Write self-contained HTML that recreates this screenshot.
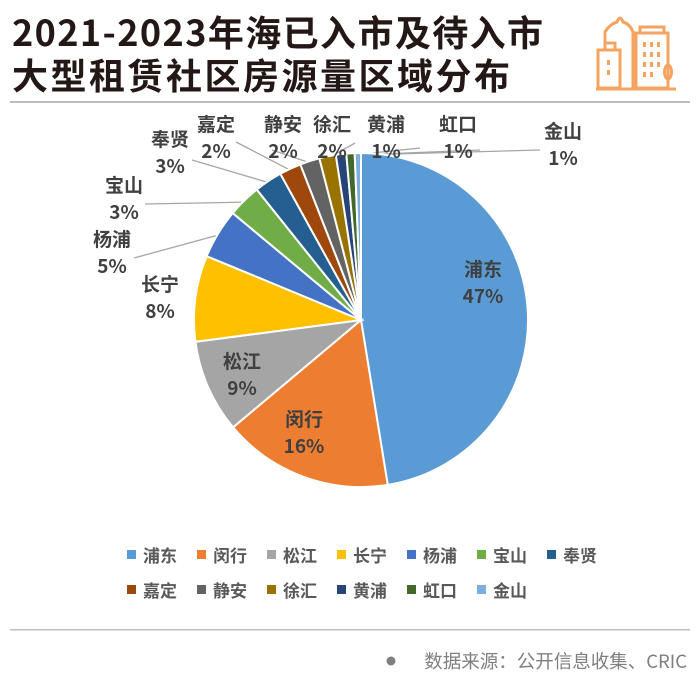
<!DOCTYPE html>
<html><head><meta charset="utf-8">
<style>
html,body{margin:0;padding:0;background:#fff;}
body{width:700px;height:683px;overflow:hidden;position:relative;font-family:"Liberation Sans","Noto Sans CJK SC",sans-serif;}
.t{position:absolute;left:12px;font-size:36px;font-weight:bold;color:#231815;letter-spacing:2.5px;white-space:nowrap;font-family:"Noto Sans CJK SC",sans-serif;}
</style></head><body>
<div class="t" style="top:5px;letter-spacing:1.4px">2021-2023年海已入市及待入市</div>
<div class="t" style="top:48px">大型租赁社区房源量区域分布</div>
<svg width="700" height="683" style="position:absolute;left:0;top:0" viewBox="0 0 700 683">
 <g fill="none" stroke="#F4A460" stroke-width="3">
  <rect x="598" y="50" width="22" height="38"/><rect x="605" y="43" width="10" height="7"/>
  <path d="M605 43 V32 Q610 24 617 22 Q620 14 623 22 Q630 24 633 32 V88"/>
  <rect x="636" y="33" width="32" height="55"/><rect x="640" y="27" width="24" height="6"/>
  <path d="M596 89 H676"/><path d="M668 76 V88"/><ellipse cx="668" cy="72" rx="3.5" ry="7"/>
 </g>
 <g fill="#F4A460">
  <rect x="607" y="60" width="3" height="5"/><rect x="607" y="70" width="3" height="5"/>
  <rect x="643" y="42" width="3" height="5"/><rect x="650" y="42" width="3" height="5"/><rect x="657" y="42" width="3" height="5"/>
  <rect x="643" y="52" width="3" height="5"/><rect x="650" y="52" width="3" height="5"/><rect x="657" y="52" width="3" height="5"/>
  <rect x="643" y="62" width="3" height="5"/><rect x="650" y="62" width="3" height="5"/><rect x="657" y="62" width="3" height="5"/>
  <rect x="643" y="72" width="3" height="5"/><rect x="650" y="72" width="3" height="5"/>
 </g>
 <rect x="10" y="101" width="680" height="2" fill="#bdbdbd"/>
 <rect x="10" y="629" width="680" height="1.5" fill="#bdbdbd"/>
 <circle cx="391" cy="661" r="4.5" fill="#7f7f7f"/>
 <text x="687" y="668" text-anchor="end" font-size="18.5" fill="#7f7f7f" font-family="Noto Sans CJK SC,sans-serif">数据来源：公开信息收集、CRIC</text>
 <g id="pie"></g>
 <g id="legend"></g>
</svg>
<script>
const categories=["浦东","闵行","松江","长宁","杨浦","宝山","奉贤","嘉定","静安","徐汇","黄浦","虹口","金山"];
const values=[47.3,16.4,9.0,8.3,4.8,3.2,2.7,2.1,1.9,1.6,1.0,0.8,0.6];
const pctLabels=["47%","16%","9%","8%","5%","3%","3%","2%","2%","2%","1%","1%","1%"];
const colors=["#5B9BD5","#ED7D31","#A5A5A5","#FFC000","#4472C4","#70AD47","#255E91","#9E480E","#636363","#997300","#264478","#43682B","#7CAFDD"];
const labelPos=[[483,270,0],[304,420,0],[242,362,0],[160,285,0],[112,240,1],[124,186,1],[170,140,1],[216,125,1],[283,125,1],[332,125,1],[386,125,1],[458,125,1],[563,132,1]];
const lineStart=[null,null,null,null,[134,258],[145,204],[192,160],[236,142],[272,150],[355,143],[420,148],[480,150],[540,150]];
const NS="http://www.w3.org/2000/svg";
const cx=361,cy=320,R=167;
const pie=document.getElementById('pie');
const total=values.reduce((a,b)=>a+b,0);
function pt(a,r){return [cx+r*Math.sin(a),cy-r*Math.cos(a)];}
let a0=0;
values.forEach((v,i)=>{
 const a1=a0+v/total*2*Math.PI;
 const p0=pt(a0,R),p1=pt(a1,R);
 const path=document.createElementNS(NS,'path');
 path.setAttribute('d',`M${cx},${cy} L${p0[0]},${p0[1]} A${R},${R} 0 ${a1-a0>Math.PI?1:0} 1 ${p1[0]},${p1[1]} Z`);
 path.setAttribute('fill',colors[i]);path.setAttribute('stroke','#fff');path.setAttribute('stroke-width','2');
 
 
 pie.appendChild(path);
 const mid=(a0+a1)/2;
 if(lineStart[i]){
  const e=pt(mid,R-2);const s=lineStart[i];
  const ln=document.createElementNS(NS,'polyline');
  ln.setAttribute('points',`${s[0]},${s[1]} ${e[0]},${e[1]}`);
  ln.setAttribute('stroke','#a6a6a6');ln.setAttribute('fill','none');ln.setAttribute('stroke-width','1.3');
  
  
  pie.insertBefore(ln,pie.firstChild);
 }
 a0=a1;
});
values.forEach((v,i)=>{
 const [x,y]=labelPos[i];
 const t=document.createElementNS(NS,'text');
 t.setAttribute('x',x);t.setAttribute('text-anchor','middle');t.setAttribute('font-size','19');t.setAttribute('font-weight','bold');
 t.setAttribute('fill','#404040');t.setAttribute('font-family','Noto Sans CJK SC,sans-serif');
 
 
 t.innerHTML=`<tspan x="${x}" y="${y+6}">${categories[i]}</tspan><tspan x="${x}" y="${y+33}">${pctLabels[i]}</tspan>`;
 pie.appendChild(t);
});
const lg=document.getElementById('legend');
const step=70;
categories.forEach((c,i)=>{
 const row=i<7?0:1;const k=i<7?i:i-7;
 const x=127+k*step, y=row?590:555;
 const g=document.createElementNS(NS,'g');
 
 
 g.innerHTML=`<rect x="${x}" y="${y-5}" width="9" height="9" fill="${colors[i]}"/><text x="${x+16}" y="${y+7}" font-size="17" font-weight="bold" fill="#595959" font-family="Noto Sans CJK SC,sans-serif">${c}</text>`;
 lg.appendChild(g);
});
</script>
</body></html>
